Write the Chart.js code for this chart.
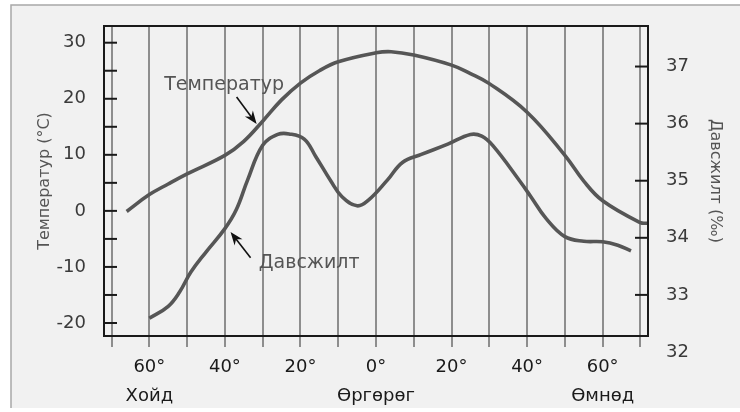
<!DOCTYPE html>
<html>
<head>
<meta charset="utf-8">
<script src="https://cdn.jsdelivr.net/npm/chart.js@4.4.1/dist/chart.umd.min.js"></script>
<style>
html, body { margin: 0; padding: 0; background: #fff; }
#wrap { width: 740px; height: 412px; }
</style>
</head>
<body>
<div id="wrap"><canvas id="myChart"></canvas></div>
<script>
//Latitude: negative = north (Хойд), positive = south (Өмнөд)
//Temperature curve (left axis, °C)
var tempLat = [-66, -60, -55, -50, -40, -35, -30, -25, -20, -15, -10, 0, 4, 10, 20, 25, 30, 40, 50, 55, 60, 70, 72];
var tempVal = [-0.1, 2.9, 4.8, 6.6, 9.9, 12.4, 16.0, 19.8, 22.8, 25.0, 26.6, 28.2, 28.4, 27.8, 26.0, 24.5, 22.7, 17.6, 9.9, 5.3, 1.8, -2.1, -2.2];
//Salinity curve (right axis, ‰)
var salLat = [-60, -55, -52, -49, -45, -40, -37, -34, -30, -26, -23, -19, -16, -12, -9, -5, -2, 3, 7, 12, 19, 25, 28, 31, 38, 41, 45, 50, 55, 60, 64, 67.5];
var salVal = [32.59, 32.80, 33.05, 33.40, 33.75, 34.16, 34.49, 35.01, 35.62, 35.81, 35.82, 35.73, 35.43, 35.0, 34.72, 34.56, 34.66, 35.01, 35.32, 35.46, 35.64, 35.81, 35.78, 35.61, 35.0, 34.72, 34.34, 34.02, 33.94, 33.93, 33.87, 33.77];

//Axis ticks
var latTicks = [-70, -60, -50, -40, -30, -20, -10, 0, 10, 20, 30, 40, 50, 60, 70];
var latLabelTicks = [-60, -40, -20, 0, 20, 40, 60];
var regionAt = [-60, 0, 60];
var regionNames = ["Хойд", "Өргөрөг", "Өмнөд"];
var tempTicks = [-20, -15, -10, -5, 0, 5, 10, 15, 20, 25, 30];
var salTicks = [32, 33, 34, 35, 36, 37];

var lineColor = "#565656";
Chart.defaults.font.family = "'DejaVu Sans', sans-serif";

function drawArrow(c, x1, y1, x2, y2) {
    var ang = Math.atan2(y2 - y1, x2 - x1);
    c.strokeStyle = "#111";
    c.fillStyle = "#111";
    c.lineWidth = 1.6;
    c.beginPath();
    c.moveTo(x1, y1);
    c.lineTo(x2 - 6 * Math.cos(ang), y2 - 6 * Math.sin(ang));
    c.stroke();
    c.beginPath();
    c.moveTo(x2, y2);
    c.lineTo(x2 - 13 * Math.cos(ang) + 5 * Math.sin(ang), y2 - 13 * Math.sin(ang) - 5 * Math.cos(ang));
    c.lineTo(x2 - 9 * Math.cos(ang), y2 - 9 * Math.sin(ang));
    c.lineTo(x2 - 13 * Math.cos(ang) - 5 * Math.sin(ang), y2 - 13 * Math.sin(ang) + 5 * Math.cos(ang));
    c.closePath();
    c.fill();
}

var framePlugin = {
    id: "frame",
    beforeDraw: function (chart) {
        var c = chart.ctx, w = chart.width, h = chart.height;
        c.save();
        c.fillStyle = "#ffffff";
        c.fillRect(0, 0, w, h);
        c.fillStyle = "#f1f1f1";
        c.fillRect(11, 5, w - 11, h - 9);
        c.strokeStyle = "#a8a8a8";
        c.lineWidth = 1.5;
        c.beginPath();
        c.moveTo(11, h - 4);
        c.lineTo(11, 5);
        c.lineTo(w, 5);
        c.stroke();
        c.restore();
    },
    afterDraw: function (chart) {
        var c = chart.ctx, a = chart.chartArea;
        var x = chart.scales.x, yT = chart.scales.yT, yS = chart.scales.yS;
        c.save();
        //inner tick marks
        c.strokeStyle = "#1a1a1a";
        c.lineWidth = 2;
        tempTicks.forEach(function (v) {
            var py = yT.getPixelForValue(v);
            c.beginPath(); c.moveTo(a.left, py); c.lineTo(a.left + 13, py); c.stroke();
        });
        salTicks.forEach(function (v) {
            if (v < yS.min) return;
            var py = yS.getPixelForValue(v);
            c.beginPath(); c.moveTo(a.right - 13, py); c.lineTo(a.right, py); c.stroke();
        });
        //plot box
        c.strokeRect(a.left, a.top, a.right - a.left, a.bottom - a.top);
        //labels with arrows
        c.font = "19px 'DejaVu Sans'";
        c.fillStyle = "#555";
        c.textAlign = "center";
        c.textBaseline = "middle";
        c.fillText("Температур", x.getPixelForValue(-40.2), yT.getPixelForValue(22.5));
        c.fillText("Давсжилт", x.getPixelForValue(-17.7), yS.getPixelForValue(33.56));
        drawArrow(c, x.getPixelForValue(-36.9), yT.getPixelForValue(20.3), x.getPixelForValue(-31.6), yT.getPixelForValue(15.5));
        drawArrow(c, x.getPixelForValue(-33.2), yS.getPixelForValue(33.65), x.getPixelForValue(-38.5), yS.getPixelForValue(34.10));
        c.restore();
    }
};

var ctx = document.getElementById("myChart");
var myChart = new Chart(ctx, {
    type: "line",
    data: {
        datasets: [
            {
                label: "Температур",
                data: tempLat.map(function (v, i) { return { x: v, y: tempVal[i] }; }),
                xAxisID: "x",
                yAxisID: "yT",
                borderColor: lineColor,
                borderWidth: 3.6,
                pointRadius: 0,
                fill: false,
                tension: 0.4
            },
            {
                label: "Давсжилт",
                data: salLat.map(function (v, i) { return { x: v, y: salVal[i] }; }),
                xAxisID: "x",
                yAxisID: "yS",
                borderColor: lineColor,
                borderWidth: 3.6,
                pointRadius: 0,
                fill: false,
                tension: 0.4
            }
        ]
    },
    options: {
        responsive: true,
        maintainAspectRatio: false,
        animation: false,
        layout: { padding: { left: 12, top: 26, right: 0, bottom: 0 } },
        plugins: {
            legend: { display: false },
            tooltip: { enabled: false }
        },
        scales: {
            x: {
                type: "linear",
                min: -72,
                max: 72,
                afterBuildTicks: function (s) { s.ticks = latTicks.map(function (v) { return { value: v }; }); },
                afterFit: function (s) { s.height = 76; },
                ticks: {
                    autoSkip: false,
                    maxRotation: 0,
                    padding: 6,
                    color: "#1a1a1a",
                    font: { size: 18, lineHeight: 1.6 },
                    callback: function (v) {
                        if (latLabelTicks.indexOf(v) < 0) return "";
                        var lbl = Math.abs(v) + "\u00b0";
                        var r = regionAt.indexOf(v);
                        return r < 0 ? lbl : [lbl, regionNames[r]];
                    }
                },
                grid: { color: "#8e8e8e", lineWidth: 2, tickLength: 11, drawTicks: true },
                border: { display: false }
            },
            yT: {
                type: "linear",
                position: "left",
                min: -22.32,
                max: 32.98,
                afterBuildTicks: function (s) { s.ticks = tempTicks.map(function (v) { return { value: v }; }); },
                afterFit: function (s) { s.width = 92; },
                ticks: {
                    padding: 10,
                    color: "#3a3a3a",
                    font: { size: 18 },
                    callback: function (v) { return v % 10 === 0 ? v : ""; }
                },
                grid: { display: false },
                border: { display: false },
                title: {
                    display: true,
                    text: "Температур (°C)",
                    color: "#555",
                    font: { size: 16 },
                    padding: { top: 23, bottom: 0 }
                }
            },
            yS: {
                type: "linear",
                position: "right",
                min: 32.28,
                max: 37.71,
                afterBuildTicks: function (s) { s.ticks = salTicks.map(function (v) { return { value: v }; }); },
                afterFit: function (s) { s.width = 92; },
                ticks: {
                    padding: 10,
                    color: "#3a3a3a",
                    font: { size: 18 }
                },
                grid: { display: false },
                border: { display: false },
                title: {
                    display: true,
                    text: "Давсжилт (‰)",
                    color: "#555",
                    font: { size: 16 },
                    padding: { top: 15, bottom: 0 }
                }
            }
        }
    },
    plugins: [framePlugin]
});
</script>
</body>
</html>
